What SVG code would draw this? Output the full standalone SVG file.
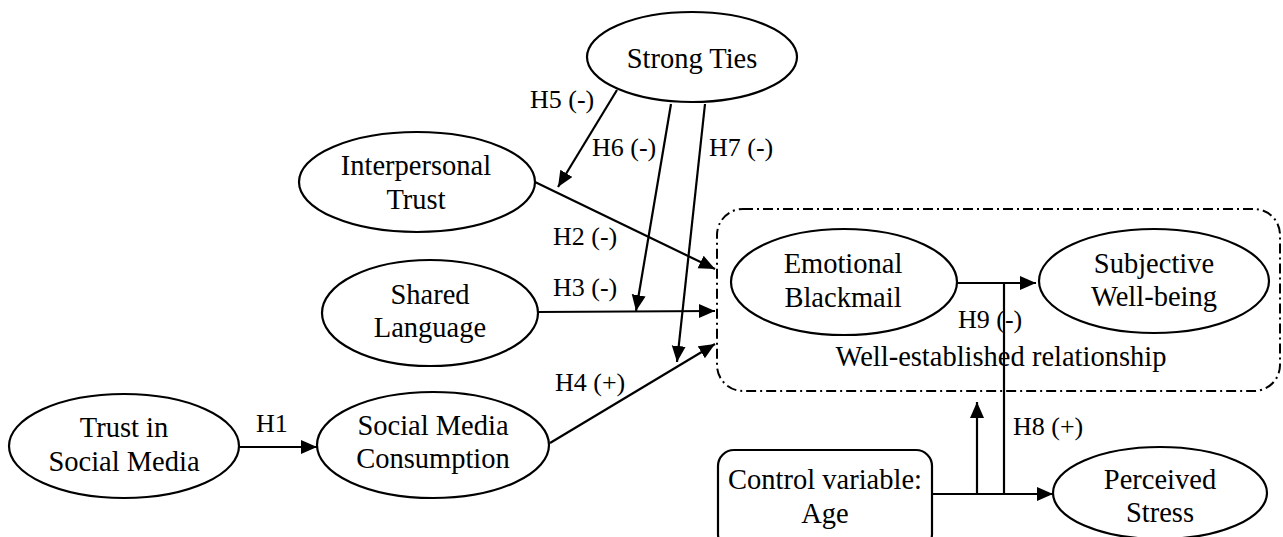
<svg xmlns="http://www.w3.org/2000/svg" width="1283" height="537" viewBox="0 0 1283 537">
<style>
.n{fill:#fff;stroke:#000;stroke-width:2.2}
.t{font-family:"Liberation Serif","Times New Roman",serif;font-size:28.5px;fill:#000;text-anchor:middle}
.l{font-family:"Liberation Serif","Times New Roman",serif;font-size:26px;fill:#000}
.c{fill:none;stroke:#000;stroke-width:2.2}
.box{fill:none;stroke:#000;stroke-width:2;stroke-dasharray:10 4 2 4}
</style>
<defs>
<marker id="a" markerUnits="userSpaceOnUse" markerWidth="17" markerHeight="15" refX="16" refY="7" orient="auto">
<path d="M0,0 L16,7 L0,14 z" fill="#000"/>
</marker>
</defs>
<rect width="1283" height="537" fill="#fff"/>
<g id="group-box">
<rect class="box" x="717" y="209" width="563" height="182" rx="26" ry="26"/>
<text class="t" x="1001" y="366">Well-established relationship</text>
</g>
<g id="connectors">
<line class="c" x1="617" y1="90" x2="558" y2="187" marker-end="url(#a)"/>
<line class="c" x1="671" y1="104" x2="636" y2="311" marker-end="url(#a)"/>
<line class="c" x1="705" y1="104" x2="677" y2="362" marker-end="url(#a)"/>
<line class="c" x1="535" y1="182" x2="715" y2="269" marker-end="url(#a)"/>
<line class="c" x1="538" y1="312" x2="715" y2="311" marker-end="url(#a)"/>
<line class="c" x1="550" y1="443" x2="715" y2="344" marker-end="url(#a)"/>
<line class="c" x1="239" y1="447" x2="317" y2="447" marker-end="url(#a)"/>
<line class="c" x1="957" y1="283" x2="1036" y2="283" marker-end="url(#a)"/>
<line class="c" x1="1004" y1="283" x2="1004" y2="494"/>
<line class="c" x1="932" y1="494" x2="1053" y2="494" marker-end="url(#a)"/>
<line class="c" x1="977" y1="494" x2="977" y2="402" marker-end="url(#a)"/>
<text class="l" x="530" y="108">H5 (-)</text>
<text class="l" x="592" y="156">H6 (-)</text>
<text class="l" x="709" y="156">H7 (-)</text>
<text class="l" x="553" y="245">H2 (-)</text>
<text class="l" x="553" y="296">H3 (-)</text>
<text class="l" x="555" y="391">H4 (+)</text>
<text class="l" x="256" y="432">H1</text>
<text class="l" x="958" y="328">H9 (-)</text>
<text class="l" x="1013" y="435">H8 (+)</text>
</g>
<g id="strong-ties">
<ellipse class="n" cx="692" cy="57" rx="105" ry="45"/>
<text class="t" x="692" y="68">Strong Ties</text>
</g>
<g id="interpersonal-trust">
<ellipse class="n" cx="417" cy="182" rx="118" ry="50"/>
<text class="t" x="416" y="175">Interpersonal</text>
<text class="t" x="416" y="209">Trust</text>
</g>
<g id="shared-language">
<ellipse class="n" cx="430" cy="313" rx="108" ry="53"/>
<text class="t" x="430" y="304">Shared</text>
<text class="t" x="430" y="337">Language</text>
</g>
<g id="trust-social-media">
<ellipse class="n" cx="124" cy="446" rx="115" ry="52"/>
<text class="t" x="124" y="437">Trust in</text>
<text class="t" x="124" y="471">Social Media</text>
</g>
<g id="social-media-consumption">
<ellipse class="n" cx="433" cy="445" rx="116" ry="53"/>
<text class="t" x="433" y="435">Social Media</text>
<text class="t" x="433" y="468">Consumption</text>
</g>
<g id="emotional-blackmail">
<ellipse class="n" cx="844" cy="282" rx="113" ry="53"/>
<text class="t" x="843" y="273">Emotional</text>
<text class="t" x="843" y="307">Blackmail</text>
</g>
<g id="subjective-well-being">
<ellipse class="n" cx="1154" cy="281" rx="115" ry="52"/>
<text class="t" x="1154" y="273">Subjective</text>
<text class="t" x="1154" y="306">Well-being</text>
</g>
<g id="control-age">
<rect class="n" x="718" y="450" width="214" height="100" rx="16" ry="16"/>
<text class="t" x="825" y="489">Control variable:</text>
<text class="t" x="825" y="523">Age</text>
</g>
<g id="perceived-stress">
<ellipse class="n" cx="1160" cy="493" rx="107" ry="46"/>
<text class="t" x="1160" y="489">Perceived</text>
<text class="t" x="1160" y="522">Stress</text>
</g>
</svg>
